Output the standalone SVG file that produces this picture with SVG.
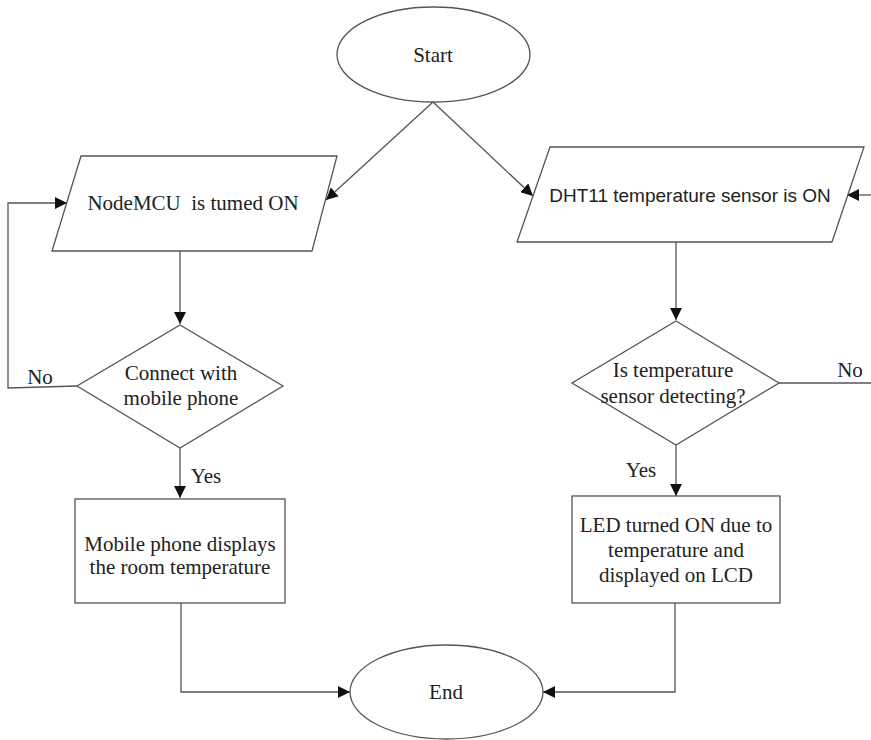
<svg xmlns="http://www.w3.org/2000/svg" width="871" height="740" viewBox="0 0 871 740">
<defs>
<marker id="ah" viewBox="0 0 10 10" refX="10" refY="5" markerWidth="12" markerHeight="12" markerUnits="userSpaceOnUse" orient="auto">
<path d="M0,0 L10,5 L0,10 z" fill="#111"/>
</marker>
<style>
.s{fill:#fff;stroke:#555;stroke-width:1.3}
.c{fill:none;stroke:#555;stroke-width:1.3}
.t{font-family:"Liberation Serif","Times New Roman",serif;font-size:21px;fill:#222;text-anchor:middle;white-space:pre}
.sans{font-family:"Liberation Sans",Arial,sans-serif;font-size:19px;fill:#222;text-anchor:middle}
</style>
</defs>
<rect width="871" height="740" fill="#fff"/>
<g id="connectors">
<path class="c" d="M433,102 L326,200" marker-end="url(#ah)"/>
<path class="c" d="M433,102 L533,196" marker-end="url(#ah)"/>
<path class="c" d="M180,251 L180,324" marker-end="url(#ah)"/>
<path class="c" d="M77,386 L8,388 L8,203 L67,203" marker-end="url(#ah)"/>
<path class="c" d="M180,448 L180,498" marker-end="url(#ah)"/>
<path class="c" d="M181,603 L181,692 L350,692" marker-end="url(#ah)"/>
<path class="c" d="M676,242 L676,320" marker-end="url(#ah)"/>
<path class="c" d="M779,383 L871,383"/>
<path class="c" d="M871,195 L847,195" marker-end="url(#ah)"/>
<path class="c" d="M676,445 L676,496" marker-end="url(#ah)"/>
<path class="c" d="M675,603 L675,692 L543,692" marker-end="url(#ah)"/>
<text class="t" x="40" y="384">No</text>
<text class="t" x="206" y="483">Yes</text>
<text class="t" x="850" y="377">No</text>
<text class="t" x="641" y="477">Yes</text>
</g>
<g id="start">
<ellipse class="s" cx="433.5" cy="54.5" rx="96.5" ry="47.5"/>
<text class="t" x="433" y="62">Start</text>
</g>
<g id="nodemcu">
<polygon class="s" points="81,156 337,156 312,251 52,251"/>
<text class="t" x="193" y="210">NodeMCU  is tumed ON</text>
</g>
<g id="dht11">
<polygon class="s" points="550,147 864,147 832,242 517,242"/>
<text class="sans" x="690" y="202">DHT11 temperature sensor is ON</text>
</g>
<g id="connect">
<polygon class="s" points="180,325 283,386 180,448 77,386"/>
<text class="t" x="181" y="380">Connect with</text>
<text class="t" x="181" y="405">mobile phone</text>
</g>
<g id="detect">
<polygon class="s" points="676,321 779,383 676,445 572,383"/>
<text class="t" x="673" y="377">Is temperature</text>
<text class="t" x="673" y="403">sensor detecting?</text>
</g>
<g id="mobile">
<rect class="s" x="75" y="499" width="210" height="104"/>
<text class="t" x="180" y="551">Mobile phone displays</text>
<text class="t" x="180" y="574">the room temperature</text>
</g>
<g id="led">
<rect class="s" x="572" y="496" width="208" height="107"/>
<text class="t" x="676" y="532">LED turned ON due to</text>
<text class="t" x="676" y="557">temperature and</text>
<text class="t" x="676" y="582">displayed on LCD</text>
</g>
<g id="end">
<ellipse class="s" cx="446.5" cy="692" rx="96.5" ry="47"/>
<text class="t" x="446" y="699">End</text>
</g>
</svg>
